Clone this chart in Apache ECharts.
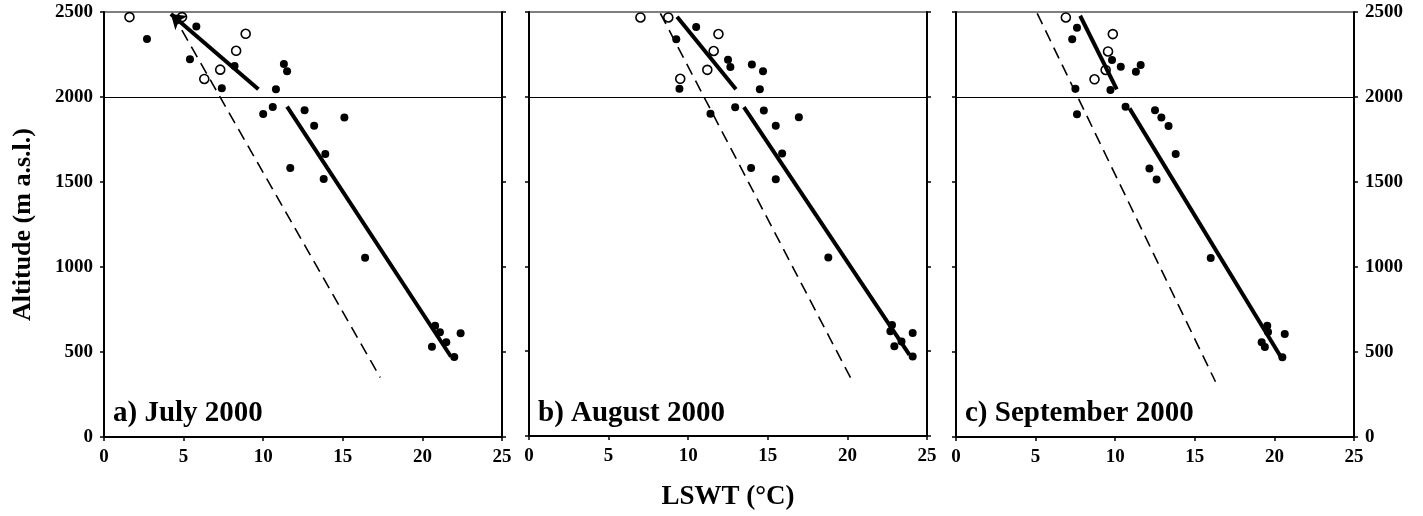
<!DOCTYPE html>
<html>
<head>
<meta charset="utf-8">
<script src="https://cdn.jsdelivr.net/npm/echarts@6/dist/echarts.min.js"></script>
<style>
html, body { margin: 0; background: #fff; }
#chart { width: 1423px; height: 516px; }
</style>
</head>
<body>
<div id="chart"></div>
<script>
// panels
var panelNames = ['a) July 2000', 'b) August 2000', 'c) September 2000'];
var xMin = 0, xMax = 25, xStep = 5;
var yMin = 0, yMax = 2500, yStep = 500;
var refAltitude = 2000;

// July 2000 - [LSWT, altitude]
var julyOpen = [[1.6, 2470], [4.9, 2470], [8.9, 2372], [8.3, 2272], [7.3, 2161], [6.3, 2106]];
var julyFilled = [[2.7, 2341], [5.8, 2414], [5.4, 2222], [8.2, 2182], [7.4, 2051], [11.3, 2194], [11.5, 2151],
    [10.8, 2045], [10.6, 1941], [10.0, 1900], [12.6, 1922], [13.2, 1831], [15.1, 1880], [13.9, 1665],
    [11.7, 1582], [13.8, 1518], [16.4, 1055], [20.8, 655], [21.1, 616], [22.4, 610], [21.5, 557],
    [20.6, 531], [22.0, 471]];
var julyUpper = [[4.2, 2488], [9.7, 2045]];
var julyLower = [[11.5, 1943], [21.8, 472]];
var julyDashed = [[4.3, 2490], [17.35, 350]];

// August 2000
var augOpen = [[7.0, 2468], [8.75, 2468], [11.9, 2370], [11.6, 2270], [11.2, 2159], [9.5, 2106]];
var augFilled = [[9.25, 2339], [10.5, 2412], [12.5, 2218], [12.65, 2176], [14.0, 2190], [14.7, 2151],
    [9.45, 2047], [14.5, 2045], [12.95, 1939], [11.4, 1900], [14.75, 1919], [15.5, 1829], [16.95, 1880],
    [15.9, 1665], [13.95, 1580], [15.5, 1514], [18.8, 1053], [22.8, 655], [22.7, 618], [24.1, 608],
    [23.4, 557], [22.95, 529], [24.1, 469]];
var augUpper = [[9.3, 2472], [13.0, 2045]];
var augLower = [[13.5, 1939], [23.9, 478]];
var augDashed = [[8.25, 2492], [20.3, 325]];

// September 2000
var sepOpen = [[6.9, 2468], [9.85, 2370], [9.55, 2268], [9.4, 2159], [8.7, 2104]];
var sepFilled = [[7.6, 2408], [7.3, 2339], [9.8, 2218], [10.35, 2178], [11.6, 2188], [11.3, 2149],
    [7.5, 2049], [9.7, 2041], [10.65, 1943], [7.6, 1898], [12.5, 1922], [12.9, 1880], [13.35, 1829],
    [13.8, 1665], [12.15, 1580], [12.6, 1514], [16.0, 1053], [19.55, 655], [19.6, 618], [20.65, 606],
    [19.2, 557], [19.4, 529], [20.5, 469]];
var sepUpper = [[7.8, 2478], [10.1, 2045]];
var sepLower = [[10.9, 1933], [20.4, 472]];
var sepDashed = [[5.1, 2492], [16.3, 325]];

var panels = [
    { open: julyOpen, filled: julyFilled, upper: julyUpper, lower: julyLower, dashed: julyDashed, arrow: true },
    { open: augOpen, filled: augFilled, upper: augUpper, lower: augLower, dashed: augDashed, arrow: false },
    { open: sepOpen, filled: sepFilled, upper: sepUpper, lower: sepLower, dashed: sepDashed, arrow: false }
];

var FONT = 'Liberation Serif';
var gridLefts = [104, 529, 956];

function tickLabelStyle(show) {
    return {
        show: show, color: '#000', fontFamily: FONT, fontWeight: 'bold', fontSize: 19, margin: 11,
        formatter: function (v) { return String(v); }
    };
}

function renderLswtChart(chartDivId) {
    var chart = echarts.init(document.getElementById(chartDivId));
    var grids = [], xAxes = [], yAxes = [], series = [], titles = [];

    panels.forEach(function (p, i) {
        grids.push({ left: gridLefts[i], top: 12, width: 398, height: 425, show: true, borderColor: '#000', borderWidth: 1 });
        titles.push({
            text: panelNames[i], left: gridLefts[i] + 9, top: 399, padding: 0,
            textStyle: { fontFamily: FONT, fontWeight: 'bold', fontSize: 29, color: '#000' }
        });
        xAxes.push({
            gridIndex: i, type: 'value', min: xMin, max: xMax, interval: xStep,
            axisLine: { show: true, onZero: false, lineStyle: { color: '#000', width: 2 } },
            axisTick: { show: true, length: 4, lineStyle: { color: '#000', width: 1.5 } },
            axisLabel: { show: true, color: '#000', fontFamily: FONT, fontWeight: 'bold', fontSize: 19, margin: 11 },
            splitLine: { show: false },
            name: i === 1 ? 'LSWT (°C)' : '', nameLocation: 'middle', nameGap: 48,
            nameTextStyle: { fontFamily: FONT, fontWeight: 'bold', fontSize: 27, color: '#000' }
        });
        ['left', 'right'].forEach(function (side) {
            yAxes.push({
                gridIndex: i, type: 'value', position: side, min: yMin, max: yMax, interval: yStep,
                axisLine: { show: true, onZero: false, lineStyle: { color: '#000', width: 2 } },
                axisTick: { show: true, length: 4, lineStyle: { color: '#000', width: 1.5 } },
                axisLabel: tickLabelStyle((i === 0 && side === 'left') || (i === 2 && side === 'right')),
                splitLine: { show: false },
                name: (i === 0 && side === 'left') ? 'Altitude (m a.s.l.)' : '',
                nameLocation: 'middle', nameGap: 68,
                nameTextStyle: { fontFamily: FONT, fontWeight: 'bold', fontSize: 26, color: '#000' }
            });
        });

        var yi = i * 2;
        series.push({
            type: 'line', xAxisIndex: i, yAxisIndex: yi, data: p.dashed, symbol: 'none', silent: true,
            lineStyle: { color: '#000', width: 1.6, type: [12, 7] },
            markLine: {
                silent: true, symbol: 'none', label: { show: false },
                lineStyle: { color: '#000', width: 1, type: 'solid' },
                data: [{ yAxis: refAltitude }]
            }
        });
        series.push({
            type: 'line', xAxisIndex: i, yAxisIndex: yi, data: p.lower, symbol: 'none', silent: true,
            lineStyle: { color: '#000', width: 4 }
        });
        if (p.arrow) {
            // upper fit with arrowhead at the cold end
            series.push({
                type: 'line', xAxisIndex: i, yAxisIndex: yi, data: [], symbol: 'none', silent: true,
                markLine: {
                    silent: true, symbol: ['arrow', 'none'], symbolSize: 14, label: { show: false },
                    lineStyle: { color: '#000', width: 4, type: 'solid' },
                    data: [[{ coord: p.upper[0] }, { coord: p.upper[1] }]]
                }
            });
        } else {
            series.push({
                type: 'line', xAxisIndex: i, yAxisIndex: yi, data: p.upper, symbol: 'none', silent: true,
                lineStyle: { color: '#000', width: 4 }
            });
        }
        series.push({
            type: 'scatter', xAxisIndex: i, yAxisIndex: yi, data: p.filled, symbol: 'circle', symbolSize: 8,
            itemStyle: { color: '#000', opacity: 1 }, clip: false
        });
        series.push({
            type: 'scatter', xAxisIndex: i, yAxisIndex: yi, data: p.open, symbol: 'circle', symbolSize: 9,
            itemStyle: { color: '#fff', borderColor: '#000', borderWidth: 1.6, opacity: 1 }, clip: false
        });
    });

    chart.setOption({
        animation: false,
        title: titles,
        grid: grids,
        xAxis: xAxes,
        yAxis: yAxes,
        series: series
    });
}

renderLswtChart('chart');
</script>
</body>
</html>
